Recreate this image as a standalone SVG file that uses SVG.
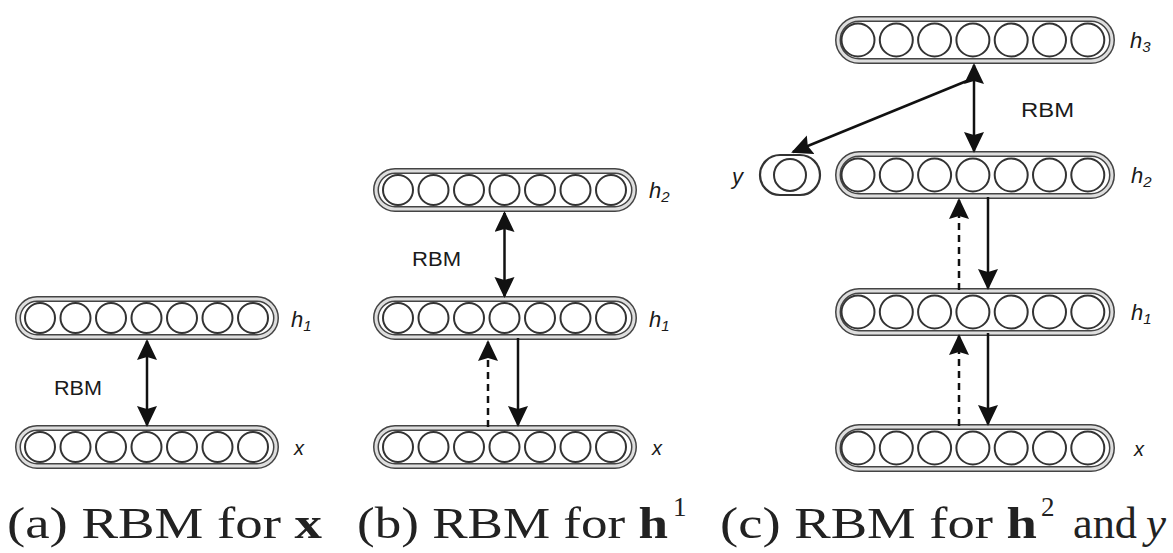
<svg xmlns="http://www.w3.org/2000/svg" width="1173" height="553" viewBox="0 0 1173 553">
<defs>
<style>
.capo{fill:none;stroke:#444;stroke-width:6}
.capi{fill:none;stroke:#dedede;stroke-width:3}
.cir{fill:none;stroke:#333;stroke-width:2}
.ysh{fill:none;stroke:#333;stroke-width:2.2}
.ln{stroke:#111;stroke-width:2.5;fill:none}
.dash{stroke-dasharray:7 5}
.rbm{font-family:"Liberation Sans",Arial,sans-serif;font-size:20px;fill:#1a1a1a}
.lab{font-family:"Liberation Sans",Arial,sans-serif;font-style:italic;font-size:22px;fill:#1a1a1a}
.sub{font-size:15px}
.cap{font-family:"Liberation Serif","Times New Roman",serif;font-size:45px;fill:#222}
.sup{font-family:"Liberation Serif","Times New Roman",serif;font-size:27px;fill:#222}
.b{font-weight:bold}
</style>
<marker id="ah" markerUnits="userSpaceOnUse" markerWidth="24" markerHeight="22" refX="19" refY="10" orient="auto-start-reverse">
<path d="M0,0 L21,10 L0,20 L3,10 z" fill="#111"/>
</marker>
</defs>
<rect width="1173" height="553" fill="#fff"/>

<!-- Panel (a) -->
<g id="a_h1">
<rect class="capo" x="18" y="299" width="258" height="38" rx="19"/>
<rect class="capi" x="18" y="299" width="258" height="38" rx="19"/>
<circle class="cir" cx="40" cy="318" r="15"/><circle class="cir" cx="75.5" cy="318" r="15"/><circle class="cir" cx="111" cy="318" r="15"/><circle class="cir" cx="146.5" cy="318" r="15"/><circle class="cir" cx="182" cy="318" r="15"/><circle class="cir" cx="217.5" cy="318" r="15"/><circle class="cir" cx="253" cy="318" r="15"/>
<text class="lab" x="291" y="327">h<tspan class="sub" dy="4">1</tspan></text>
</g>
<g id="a_x">
<rect class="capo" x="18" y="428" width="258" height="38" rx="19"/>
<rect class="capi" x="18" y="428" width="258" height="38" rx="19"/>
<circle class="cir" cx="40" cy="447" r="15"/><circle class="cir" cx="75.5" cy="447" r="15"/><circle class="cir" cx="111" cy="447" r="15"/><circle class="cir" cx="146.5" cy="447" r="15"/><circle class="cir" cx="182" cy="447" r="15"/><circle class="cir" cx="217.5" cy="447" r="15"/><circle class="cir" cx="253" cy="447" r="15"/>
<text class="lab" x="294" y="455" style="font-size:20px">x</text>
</g>

<!-- Panel (b) -->
<g id="b_h2">
<rect class="capo" x="376" y="171" width="258" height="38" rx="19"/>
<rect class="capi" x="376" y="171" width="258" height="38" rx="19"/>
<circle class="cir" cx="398" cy="190" r="15"/><circle class="cir" cx="433.5" cy="190" r="15"/><circle class="cir" cx="469" cy="190" r="15"/><circle class="cir" cx="504.5" cy="190" r="15"/><circle class="cir" cx="540" cy="190" r="15"/><circle class="cir" cx="575.5" cy="190" r="15"/><circle class="cir" cx="611" cy="190" r="15"/>
<text class="lab" x="649" y="198">h<tspan class="sub" dy="4">2</tspan></text>
</g>
<g id="b_h1">
<rect class="capo" x="376" y="299" width="258" height="38" rx="19"/>
<rect class="capi" x="376" y="299" width="258" height="38" rx="19"/>
<circle class="cir" cx="398" cy="318" r="15"/><circle class="cir" cx="433.5" cy="318" r="15"/><circle class="cir" cx="469" cy="318" r="15"/><circle class="cir" cx="504.5" cy="318" r="15"/><circle class="cir" cx="540" cy="318" r="15"/><circle class="cir" cx="575.5" cy="318" r="15"/><circle class="cir" cx="611" cy="318" r="15"/>
<text class="lab" x="649" y="327">h<tspan class="sub" dy="4">1</tspan></text>
</g>
<g id="b_x">
<rect class="capo" x="376" y="428" width="258" height="38" rx="19"/>
<rect class="capi" x="376" y="428" width="258" height="38" rx="19"/>
<circle class="cir" cx="398" cy="447" r="15"/><circle class="cir" cx="433.5" cy="447" r="15"/><circle class="cir" cx="469" cy="447" r="15"/><circle class="cir" cx="504.5" cy="447" r="15"/><circle class="cir" cx="540" cy="447" r="15"/><circle class="cir" cx="575.5" cy="447" r="15"/><circle class="cir" cx="611" cy="447" r="15"/>
<text class="lab" x="652" y="455" style="font-size:20px">x</text>
</g>

<!-- Panel (c) -->
<g id="c_h3">
<rect class="capo" x="838" y="19" width="274" height="42" rx="21"/>
<rect class="capi" x="838" y="19" width="274" height="42" rx="21"/>
<circle class="cir" cx="858" cy="40" r="16.5"/><circle class="cir" cx="896.3" cy="40" r="16.5"/><circle class="cir" cx="934.6" cy="40" r="16.5"/><circle class="cir" cx="972.9" cy="40" r="16.5"/><circle class="cir" cx="1011.2" cy="40" r="16.5"/><circle class="cir" cx="1049.5" cy="40" r="16.5"/><circle class="cir" cx="1087.8" cy="40" r="16.5"/>
<text class="lab" x="1130" y="48">h<tspan class="sub" dy="4">3</tspan></text>
</g>
<g id="c_y">
<rect class="ysh" x="760" y="155" width="60" height="40" rx="20"/>
<circle class="cir" cx="790" cy="175" r="16"/>
<text class="lab" x="732" y="184">y</text>
</g>
<g id="c_h2">
<rect class="capo" x="838" y="154" width="274" height="42" rx="21"/>
<rect class="capi" x="838" y="154" width="274" height="42" rx="21"/>
<circle class="cir" cx="858" cy="175" r="16.5"/><circle class="cir" cx="896.3" cy="175" r="16.5"/><circle class="cir" cx="934.6" cy="175" r="16.5"/><circle class="cir" cx="972.9" cy="175" r="16.5"/><circle class="cir" cx="1011.2" cy="175" r="16.5"/><circle class="cir" cx="1049.5" cy="175" r="16.5"/><circle class="cir" cx="1087.8" cy="175" r="16.5"/>
<text class="lab" x="1131" y="183">h<tspan class="sub" dy="4">2</tspan></text>
</g>
<g id="c_h1">
<rect class="capo" x="838" y="291" width="274" height="42" rx="21"/>
<rect class="capi" x="838" y="291" width="274" height="42" rx="21"/>
<circle class="cir" cx="858" cy="312" r="16.5"/><circle class="cir" cx="896.3" cy="312" r="16.5"/><circle class="cir" cx="934.6" cy="312" r="16.5"/><circle class="cir" cx="972.9" cy="312" r="16.5"/><circle class="cir" cx="1011.2" cy="312" r="16.5"/><circle class="cir" cx="1049.5" cy="312" r="16.5"/><circle class="cir" cx="1087.8" cy="312" r="16.5"/>
<text class="lab" x="1131" y="320">h<tspan class="sub" dy="4">1</tspan></text>
</g>
<g id="c_x">
<rect class="capo" x="838" y="427" width="274" height="42" rx="21"/>
<rect class="capi" x="838" y="427" width="274" height="42" rx="21"/>
<circle class="cir" cx="858" cy="448" r="16.5"/><circle class="cir" cx="896.3" cy="448" r="16.5"/><circle class="cir" cx="934.6" cy="448" r="16.5"/><circle class="cir" cx="972.9" cy="448" r="16.5"/><circle class="cir" cx="1011.2" cy="448" r="16.5"/><circle class="cir" cx="1049.5" cy="448" r="16.5"/><circle class="cir" cx="1087.8" cy="448" r="16.5"/>
<text class="lab" x="1134" y="456" style="font-size:20px">x</text>
</g>

<!-- Connectors -->
<g id="connectors">
<line class="ln" x1="147" y1="341" x2="147" y2="425" marker-start="url(#ah)" marker-end="url(#ah)"/>
<line class="ln" x1="504.5" y1="213" x2="504.5" y2="296" marker-start="url(#ah)" marker-end="url(#ah)"/>
<line class="ln dash" x1="488" y1="427" x2="488" y2="342" marker-end="url(#ah)"/>
<line class="ln" x1="518" y1="338" x2="518" y2="425" marker-end="url(#ah)"/>
<line class="ln" x1="974" y1="65" x2="974" y2="151" marker-start="url(#ah)" marker-end="url(#ah)"/>
<line class="ln" x1="974" y1="78" x2="793" y2="152" marker-end="url(#ah)"/>
<line class="ln dash" x1="959" y1="290" x2="959" y2="200" marker-end="url(#ah)"/>
<line class="ln" x1="988" y1="197" x2="988" y2="288" marker-end="url(#ah)"/>
<line class="ln dash" x1="959" y1="426" x2="959" y2="336" marker-end="url(#ah)"/>
<line class="ln" x1="988" y1="333" x2="988" y2="424" marker-end="url(#ah)"/>
</g>

<text class="rbm" x="54" y="395" textLength="48" lengthAdjust="spacingAndGlyphs">RBM</text>
<text class="rbm" x="412" y="266" textLength="49" lengthAdjust="spacingAndGlyphs">RBM</text>
<text class="rbm" x="1021" y="117" textLength="53" lengthAdjust="spacingAndGlyphs">RBM</text>

<!-- Captions -->
<text class="cap" x="7" y="538" textLength="315" lengthAdjust="spacingAndGlyphs">(a) RBM for <tspan class="b">x</tspan></text>
<text class="cap" x="357" y="538" textLength="311" lengthAdjust="spacingAndGlyphs">(b) RBM for <tspan class="b">h</tspan></text>
<text class="sup" x="673" y="516">1</text>
<text class="cap" x="720" y="538" textLength="317" lengthAdjust="spacingAndGlyphs">(c) RBM for <tspan class="b">h</tspan></text>
<text class="sup" x="1041" y="516">2</text>
<text class="cap" x="1073" y="538" textLength="64" lengthAdjust="spacingAndGlyphs">and</text>
<text class="cap" x="1146" y="538" font-style="italic">y</text>
</svg>
